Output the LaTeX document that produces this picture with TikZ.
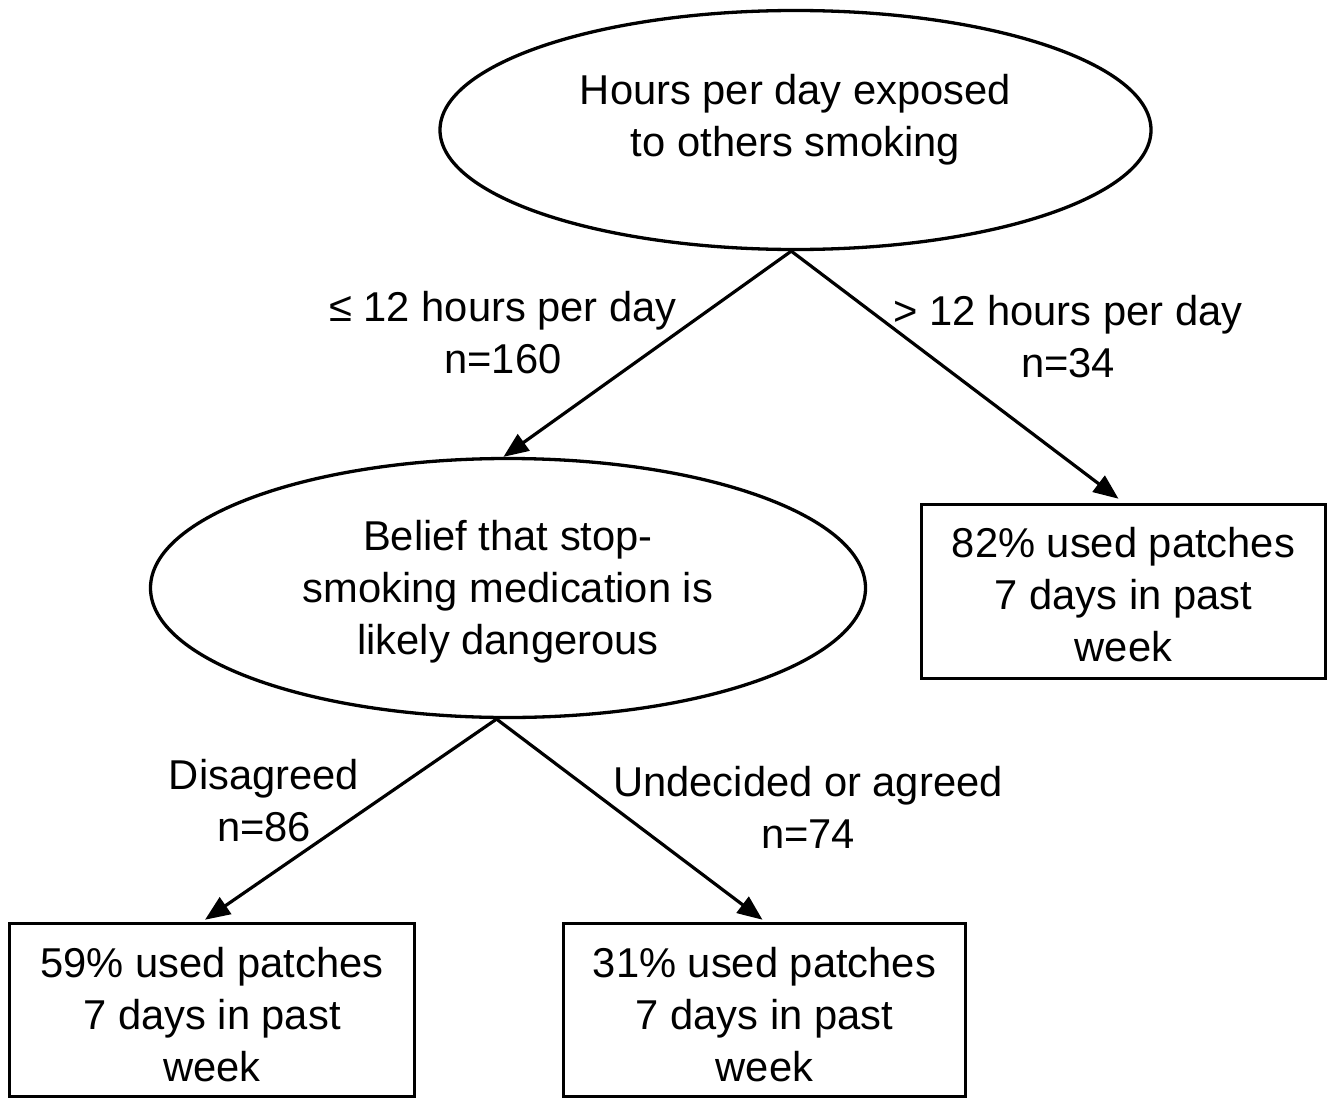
\documentclass[tikz,border=0pt]{standalone}
\usepackage{fontspec}
\setmainfont{Liberation Sans}
\usetikzlibrary{arrows.meta,shapes.geometric}
\newcommand{\sth}[1]{\rule{0pt}{#1pt}}
\newcommand{\std}[1]{\rule[-#1pt]{0pt}{#1pt}}
\begin{document}
\begin{tikzpicture}[x=1pt,y=-1pt,
  every node/.style={font=\fontsize{41.7}{52}\selectfont, align=center, inner sep=0pt},
  oval/.style={draw, ellipse, line width=3.3pt},
  outcome/.style={draw, rectangle, line width=3.5pt},
  conn/.style={line width=3.2pt, line join=miter, -{Triangle[length=25pt,width=20pt]}}]
\useasboundingbox[fill=white] (0,0) rectangle (1334,1100);

\node[oval, minimum width=711pt, minimum height=239pt] (e1) at (795.5,130)
  {\sth{30}Hours per day exposed\\to others smoking\std{30}};
\node[oval, minimum width=715pt, minimum height=259pt] (e2) at (508,588)
  {\sth{46}Belief that stop-\\smoking medication is\\likely dangerous\std{18}};
\node[outcome, minimum width=404pt, minimum height=174pt] (r1) at (1123.5,591.5)
  {\sth{46}82\% used patches\\7 days in past\\week\std{10}};
\node[outcome, minimum width=405pt, minimum height=173pt] (b1) at (212,1010)
  {\sth{48}59\% used patches\\7 days in past\\week\std{9}};
\node[outcome, minimum width=402pt, minimum height=173pt] (b2) at (764.5,1010)
  {\sth{48}31\% used patches\\7 days in past\\week\std{9}};

\node (l1) at (503,347.5) {\sth{30}≤ 12 hours per day\\n=160\std{30}};
\node (l2) at (1068,351) {\sth{30}> 12 hours per day\\n=34\std{30}};
\node (l3) at (264,815.5) {\sth{30}Disagreed\\n=86\std{30}};
\node (l4) at (808,822.5) {\sth{30}Undecided or agreed\\n=74\std{30}};

\draw[conn] (e1.268) -- (e2.92);
\draw[conn] (e1.268) -- ([xshift=-5pt,yshift=4pt]r1.north);
\draw[conn] (e2.265) -- ([xshift=-7pt,yshift=2pt]b1.north);
\draw[conn] (e2.265) -- ([xshift=-2pt,yshift=2pt]b2.north);
\end{tikzpicture}
\end{document}
